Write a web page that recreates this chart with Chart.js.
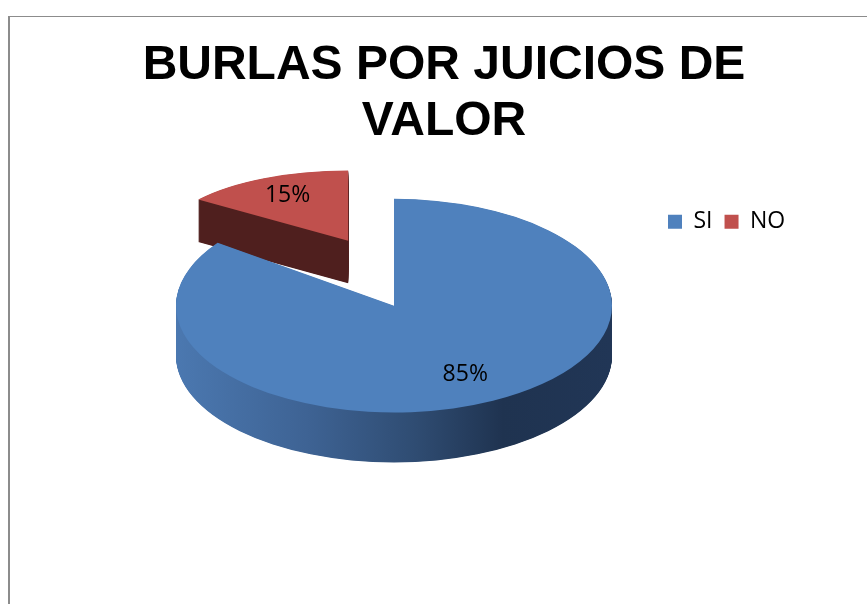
<!DOCTYPE html>
<html>
<head>
<meta charset="utf-8">
<script src="https://cdn.jsdelivr.net/npm/chart.js@4.4.1/dist/chart.umd.min.js"></script>
<style>
    html, body { margin: 0; padding: 0; background: #fff; overflow: hidden; }
    #frame {
        position: absolute;
        left: 8px;
        top: 16px;
        width: 868px;
        height: 600px;
        border-left: 2px solid #8c8c8c;
        border-top: 1px solid #8c8c8c;
    }
    #chart { display: block; }
</style>
</head>
<body>
<div id="frame"><canvas id="chart" width="868" height="600"></canvas></div>
<script>
// chart data
const titleLines = ["BURLAS POR JUICIOS DE", "VALOR"];
const categories = ["SI", "NO"];
const values = [85, 15];

// slice look
const sliceColors = ["#4f81bd", "#c0504d"];
const sideStops = [
    [["0", "#4b78b0"], ["0.3", "#3e6394"], ["0.55", "#2f4c72"], ["0.75", "#1f3350"], ["1", "#213656"]],
    [["0", "#4f1f1e"], ["1", "#4f1f1e"]]
];

// fake 3D pie: squash, extrude and pull slices out, using the arcs Chart.js laid out
const pie3d = {
    id: "pie3d",
    beforeDatasetsDraw(chart, args, opts) {
        let ctx = chart.ctx;
        let arcs = chart.getDatasetMeta(0).data;
        let total = values.reduce((a, b) => a + b, 0);

        // exploded slice sits at the back, draw it first
        let order = arcs.map((a, i) => i).sort((a, b) => opts.explode[b] - opts.explode[a]);
        let spots = [];

        order.forEach(i => {
            let arc = arcs[i];
            let p = arc.getProps(["x", "y", "startAngle", "endAngle", "outerRadius"], true);
            let mid = (p.startAngle + p.endAngle) / 2;
            let k = opts.shrink[i];
            let t = opts.tilt[i];
            let ox = p.x + opts.shiftX + Math.cos(mid) * opts.explode[i];
            let oy = p.y + Math.sin(mid) * opts.explode[i] * opts.explodeTilt;
            let depth = opts.depth * k;

            let place = function (dy) {
                ctx.translate(ox, oy + dy);
                ctx.scale(k, k * t);
                ctx.translate(-p.x, -p.y);
            };

            // side wall
            for (let d = depth; d > 0; d -= 0.5) {
                ctx.save();
                place(d);
                let grad = ctx.createLinearGradient(p.x - p.outerRadius, 0, p.x + p.outerRadius, 0);
                sideStops[i].forEach(s => grad.addColorStop(+s[0], s[1]));
                ctx.fillStyle = grad;
                ctx.beginPath();
                ctx.moveTo(p.x, p.y);
                ctx.arc(p.x, p.y, p.outerRadius, p.startAngle, p.endAngle);
                ctx.closePath();
                ctx.fill();
                ctx.restore();
            }

            // top face
            ctx.save();
            place(0);
            arc.draw(ctx);
            ctx.restore();

            let r = p.outerRadius * opts.labelPos;
            spots[i] = {
                x: ox + Math.cos(mid) * r * k,
                y: oy + Math.sin(mid) * r * k * t,
                text: Math.round(values[i] / total * 100) + "%"
            };
        });

        ctx.save();
        ctx.font = opts.labelFont;
        ctx.fillStyle = "#000";
        ctx.textAlign = "center";
        ctx.textBaseline = "middle";
        spots.forEach(s => ctx.fillText(s.text, s.x, s.y));
        ctx.restore();

        return false;
    }
};

// put the legend row at the right, like the spreadsheet did
const legendSpot = {
    id: "legendSpot",
    afterLayout(chart, args, opts) {
        chart.legend.left = opts.left;
    }
};

new Chart(document.getElementById("chart"), {
    type: "pie",
    data: {
        labels: categories,
        datasets: [{
            data: values,
            backgroundColor: sliceColors,
            borderWidth: 0,
            radius: 218
        }]
    },
    options: {
        responsive: false,
        animation: false,
        events: [],
        layout: { padding: { bottom: 249 } },
        plugins: {
            title: {
                display: true,
                text: titleLines,
                color: "#000",
                font: { family: "'Liberation Sans', Arial, sans-serif", size: 48, weight: "bold", lineHeight: 1.17 },
                padding: { top: 21, bottom: 48 }
            },
            legend: {
                position: "top",
                align: "start",
                labels: {
                    color: "#000",
                    boxWidth: 14,
                    boxHeight: 14,
                    padding: 12,
                    font: { family: "'Open Sans', sans-serif", size: 23 }
                }
            },
            tooltip: { enabled: false },
            legendSpot: { left: 646 },
            pie3d: {
                shiftX: -50,
                tilt: [0.49, 0.38],
                shrink: [1, 0.85],
                explode: [0, 101],
                explodeTilt: 0.72,
                depth: 50,
                labelPos: 0.72,
                labelFont: "23px 'Open Sans', sans-serif"
            }
        }
    },
    plugins: [pie3d, legendSpot]
});
</script>
</body>
</html>
